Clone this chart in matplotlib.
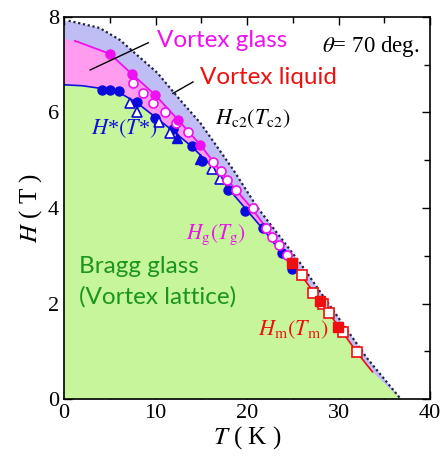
import numpy as np
import matplotlib
matplotlib.use("Agg")
import matplotlib.pyplot as plt
from matplotlib.ticker import MultipleLocator

plt.rcParams['font.family'] = ['Liberation Serif', 'DejaVu Serif']
plt.rcParams['mathtext.fontset'] = 'stix'

# upper critical field Hc2 (dotted line)
T_c2 = [0.5, 1.0, 3.9, 6.1, 10.2, 12.7, 14.9, 18.5, 21.1, 25.8, 28.7, 33.1, 36.8]
H_c2 = [7.92, 7.9, 7.77, 7.52, 6.83, 6.26, 5.78, 4.8, 4.02, 2.85, 2.05, 0.86, 0.0]

# glass line Hg (magenta)
T_gline = [0.0, 1.2, 5.0, 7.4, 9.95, 12.5, 14.9, 17.8, 20.5, 23.5, 25.0]
H_gline = [7.54, 7.5, 7.23, 6.81, 6.37, 5.84, 5.32, 4.6, 4.0, 3.22, 2.85]

# order-disorder line H* (blue)
T_sline = [0.0, 2.0, 4.2, 6.0, 8.0, 10.0, 12.0, 14.0, 16.0, 18.0, 20.0, 22.0, 24.0, 25.0]
H_sline = [6.58, 6.56, 6.5, 6.42, 6.2, 5.9, 5.6, 5.28, 4.9, 4.4, 3.95, 3.5, 3.0, 2.75]

# melting line Hm (red)
T_mline = [24.9, 26.0, 28.0, 30.0, 32.0, 33.7]
H_mline = [2.85, 2.57, 2.05, 1.52, 0.98, 0.57]

# data points
Tg_fill = [5.0, 7.4, 9.95, 12.5, 14.9]
Hg_fill = [7.23, 6.81, 6.37, 5.84, 5.32]
Tg_open = [7.5, 8.6, 9.7, 11.0, 12.2, 13.5, 16.3, 17.2, 17.8, 18.8, 20.6, 22.1, 22.7, 23.5, 24.4]
Hg_open = [6.62, 6.41, 6.2, 6.01, 5.78, 5.6, 4.96, 4.77, 4.59, 4.38, 3.99, 3.58, 3.39, 3.22, 3.01]

Ts_circ = [4.2, 5.0, 6.0, 8.0, 9.95, 11.9, 14.0, 15.1, 17.9, 19.8, 21.8, 23.8, 24.9]
Hs_circ = [6.48, 6.48, 6.44, 6.22, 5.89, 5.65, 5.3, 4.98, 4.38, 3.93, 3.58, 3.06, 2.72]
Ts_otri = [7.2, 8.0, 10.4, 11.6, 16.2, 17.0]
Hs_otri = [6.2, 6.01, 5.8, 5.57, 4.82, 4.6]
Ts_ftri = [12.3, 14.9]
Hs_ftri = [5.47, 5.03]

Tm_fill = [24.9, 28.0, 29.9]
Hm_fill = [2.85, 2.05, 1.51]
Tm_open = [26.0, 27.2, 28.3, 29.0, 30.5, 32.0]
Hm_open = [2.6, 2.22, 1.98, 1.8, 1.4, 0.98]

fig = plt.figure(figsize=(4.43, 4.59), dpi=100)
ax = fig.add_axes([0.1445, 0.1307, 0.8262, 0.8323])

# shaded phases
ax.fill_between([0.0] + T_c2, [H_c2[0]] + H_c2, 0, color='#bebef5', lw=0, zorder=1)
ax.fill(T_gline + T_sline[::-1], H_gline + H_sline[::-1], color='#ff9cf0', lw=0, zorder=2)
ax.fill(T_sline + T_mline[1:] + [36.8, 36.8, 0.0], H_sline + H_mline[1:] + [0.0, 0.0, 0.0],
        color='#c6f59b', lw=0, zorder=3)

ax.plot(T_c2, H_c2, ls=(0, (1, 1.2)), color='#202040', lw=1.6, zorder=4)
ax.plot(T_gline[1:], H_gline[1:], color='#ee10ee', lw=1.3, zorder=4)
ax.plot(T_sline, H_sline, color='#1010dd', lw=1.2, zorder=4)
ax.plot(T_mline, H_mline, color='#ee1010', lw=1.2, zorder=4)

ms = 6.5
ax.plot(Ts_circ, Hs_circ, 'o', color='#0a0adc', ms=ms, zorder=5)
ax.plot(Ts_otri, Hs_otri, '^', mfc='white', mec='#0a0adc', mew=1.2, ms=ms + 0.5, zorder=5)
ax.plot(Ts_ftri, Hs_ftri, '^', color='#0a0adc', ms=ms + 0.5, zorder=5)
ax.plot(Tg_open, Hg_open, 'o', mfc='white', mec='#ee10ee', mew=1.2, ms=ms, zorder=6)
ax.plot(Tg_fill, Hg_fill, 'o', color='#ee10ee', ms=ms, zorder=6)
ax.plot(Tm_open, Hm_open, 's', mfc='white', mec='#ee1010', mew=1.2, ms=ms, zorder=6)
ax.plot(Tm_fill, Hm_fill, 's', color='#ee1010', ms=ms, zorder=7)

# pointer lines
ax.plot([2.85, 9.2], [6.89, 7.46], color='black', lw=1.0, zorder=8)
ax.plot([11.9, 14.1], [6.4, 6.64], color='black', lw=1.0, zorder=8)

sans = ['Lato', 'DejaVu Sans']
ax.text(10.2, 7.5, 'Vortex glass', color='#ee10ee', fontsize=17.5, family=sans, va='center', zorder=9)
ax.text(14.9, 6.73, 'Vortex liquid', color='#ee1010', fontsize=17.5, family=sans, va='center', zorder=9)
ax.text(1.6, 2.78, 'Bragg glass', color='#1a961a', fontsize=17.5, family=sans, va='center', zorder=9)
ax.text(1.6, 2.15, '(Vortex lattice)', color='#1a961a', fontsize=17.5, family=sans, va='center', zorder=9)
ax.text(38.8, 7.38, r'$\theta$= 70 deg.', color='black', fontsize=16.5, ha='right', va='center', zorder=9)
ax.text(16.5, 5.88, r'$H_{\rm c2}(T_{\rm c2})$', color='black', fontsize=16, va='center', zorder=9)
ax.text(2.9, 5.67, r'$H$*$(T$*$)$', color='#1010dd', fontsize=16, va='center', zorder=9)
ax.text(13.3, 3.43, r'$H_{\rm g}(T_{\rm g})$', color='#ee10ee', fontsize=15.5, va='center', zorder=9)
ax.text(21.2, 1.45, r'$H_{\rm m}(T_{\rm m})$', color='#ee1010', fontsize=16, va='center', zorder=9)

ax.set_xlim(0, 40)
ax.set_ylim(0, 8)
ax.xaxis.set_major_locator(MultipleLocator(10))
ax.xaxis.set_minor_locator(MultipleLocator(5))
ax.yaxis.set_major_locator(MultipleLocator(2))
ax.yaxis.set_minor_locator(MultipleLocator(1))
ax.tick_params(which='both', direction='in', top=True, right=True, labelsize=16, width=1.0)
ax.tick_params(which='major', length=6)
ax.tick_params(which='minor', length=4)
for s in ax.spines.values():
    s.set_linewidth(1.2)
    s.set_zorder(10)

ax.set_xlabel(r'$T$ ( K )', fontsize=18, labelpad=1)
ax.set_ylabel(r'$H$ ( T )', fontsize=18, labelpad=3)

fig.savefig('out.png', dpi=100)
